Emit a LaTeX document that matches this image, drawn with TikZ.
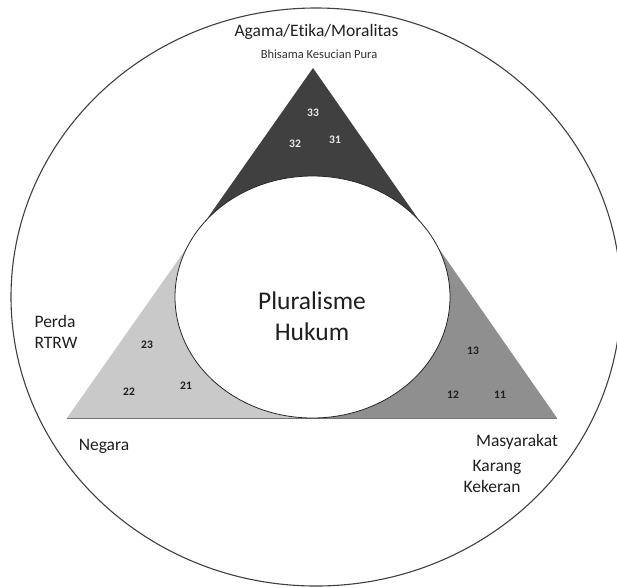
\documentclass[tikz,border=0pt]{standalone}
\usepackage{fontspec}
\setmainfont{Carlito}[Ligatures=NoCommon]
\begin{document}
\begin{tikzpicture}[x=1pt,y=-1pt,
  txt/.style={inner sep=0pt, text=black!88, text height=0.64em, text depth=0pt},
  head/.style={txt, font=\fontsize{17.5}{20}\selectfont},
  small/.style={txt, font=\fontsize{12.5}{14}\selectfont, text=black!80},
  big/.style={txt, font=\fontsize{25.5}{30}\selectfont},
  num/.style={txt, font=\fontsize{11.5}{12}\selectfont\bfseries, text=black!88},
  numlight/.style={num, text=white!92!black},
  darkfill/.style={fill=black!75},
  lightfill/.style={fill=black!21},
  midfill/.style={fill=black!44},
  rim/.style={line width=1.1pt, draw=black!75},
  core/.style={line width=0.8pt, draw=black!85, fill=white},
  edge/.style={line width=0.5pt, draw=black!55},
]
\useasboundingbox (0,0) rectangle (617,587);
\fill[white] (0,0) rectangle (617,587);

% outer boundary
\draw[rim] (316,297) ellipse [x radius=305, y radius=289];

% triangle corners
\coordinate (L) at (67,418);
\coordinate (R) at (557,418);
\coordinate (T) at (313,68);

% the three shaded parts of the triangle
\begin{scope}
  \clip (L) -- (R) -- (T) -- cycle;
  \fill[darkfill] (0,0) rectangle (617,238);
  \fill[lightfill] (0,238) rectangle (312.5,430);
  \fill[midfill] (312.5,238) rectangle (617,430);
\end{scope}
\draw[edge] (L) -- (R);

% inscribed white ellipse
\draw[core] (312.5,297) ellipse [x radius=137.5, y radius=121];

% labels
\node[head] (agama) at (316.5,33) {Agama/Et\kern0pt ika/Moralitas};
\node[small] (bhisama) at (319,55) {Bhisama Kesucian Pura};
\node[big] (plural) at (312,306) {Pluralisme};
\node[big] (hukum) at (312,337) {Hukum};
\node[head] (negara) at (104,447) {Negara};
\node[head] (masy) at (517,443) {Masyarakat};
\node[head] (karang) at (497,468) {Karang};
\node[head] (kekeran) at (492,489) {Kekeran};
\node[head] (perda) at (55,324) {Perda};
\node[head] (rtrw) at (56,345) {RTRW};

% region numbers
\node[numlight] (n33) at (313,113) {33};
\node[numlight] (n32) at (295,144) {32};
\node[numlight] (n31) at (335,140) {31};
\node[num] (n23) at (147,345) {23};
\node[num] (n22) at (129,392) {22};
\node[num] (n21) at (186,386) {21};
\node[num] (n13) at (473,351) {13};
\node[num] (n12) at (453,395) {12};
\node[num] (n11) at (500,395) {11};
\end{tikzpicture}
\end{document}
